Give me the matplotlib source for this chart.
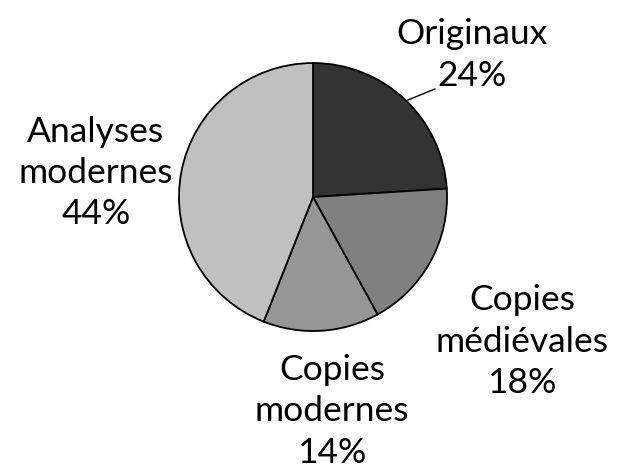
import matplotlib
matplotlib.use('Agg')
import matplotlib.pyplot as plt

# données du camembert
categories = ['Originaux', 'Copies\nmédiévales', 'Copies\nmodernes', 'Analyses\nmodernes']
values = [24, 18, 14, 44]
colors = ['#333333', '#808080', '#969696', '#c0c0c0']

plt.rcParams['font.family'] = ['Lato', 'DejaVu Sans']

fig = plt.figure(figsize=(6.17, 4.71), dpi=100)
ax = fig.add_axes([0.2901, 0.2972, 0.4344, 0.569])

wedges, _ = ax.pie(values, colors=colors, startangle=90, counterclock=False,
                   radius=1, wedgeprops=dict(edgecolor='black', linewidth=1.3))
ax.set_xlim(-1, 1)
ax.set_ylim(-1, 1)
ax.set_aspect('auto')
ax.axis('off')

# positions des étiquettes (coordonnées du camembert)
label_pos = [(1.187, 1.06), (1.56, -1.08), (0.142, -1.60), (-1.62, 0.18)]
for name, v, (x, y) in zip(categories, values, label_pos):
    ax.text(x, y, f'{name}\n{v}%', ha='center', va='center', fontsize=25.5,
            linespacing=1.36, color='black', clip_on=False)

# trait de rappel pour "Originaux"
ax.plot([0.709, 0.910], [0.724, 0.806], color='black', lw=1, clip_on=False)

fig.savefig('out.png', dpi=100)
